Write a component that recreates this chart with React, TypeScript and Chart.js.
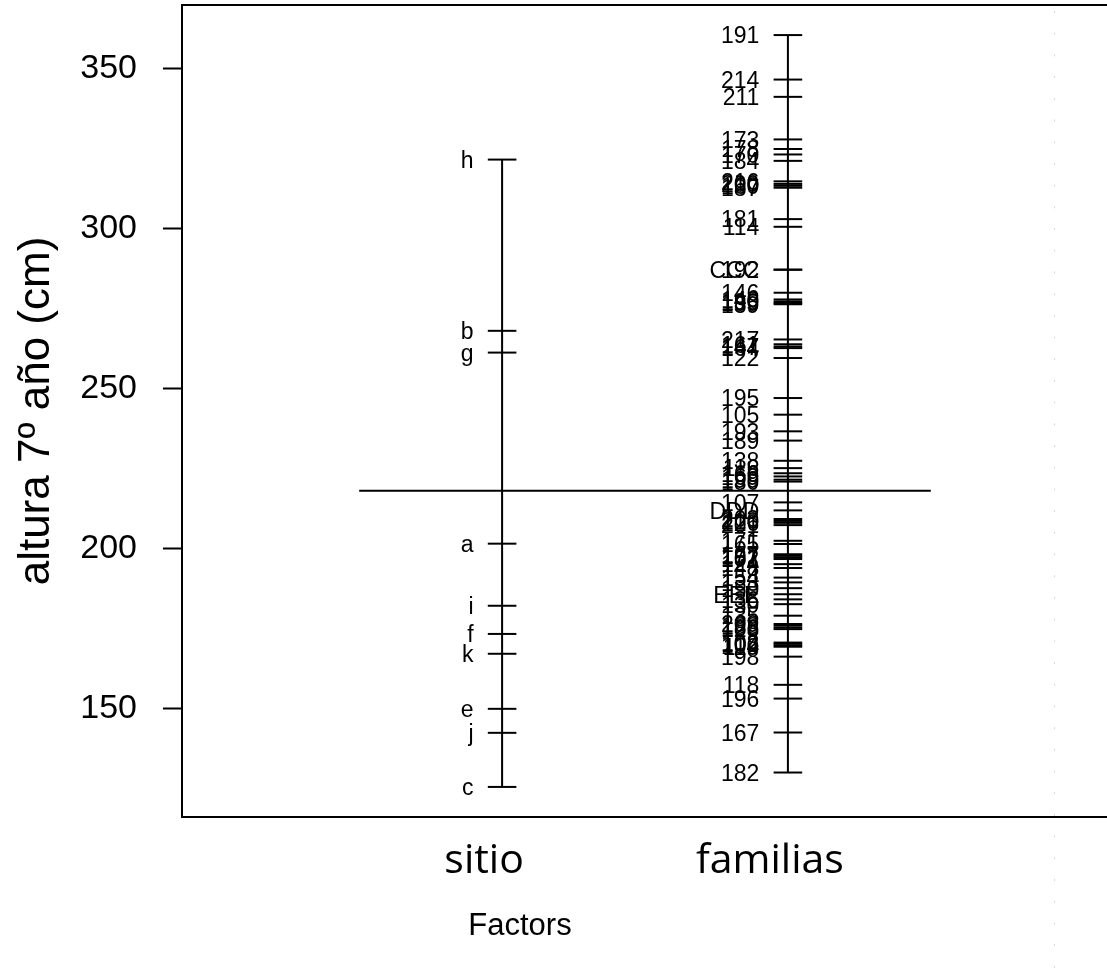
import React, { useEffect, useRef } from "react";
import { Chart, registerables } from "chart.js";

Chart.register(...registerables);

const factorNames = ["sitio", "familias"];
const yTicks = [150, 200, 250, 300, 350];
const grandMean = 218.1;

const sitioLevels = ["h", "b", "g", "a", "i", "f", "k", "e", "j", "c"];
const sitioMeans = [321.6, 268.1, 261.3, 201.6, 182.2, 173.4, 167.2, 150.0, 142.5, 125.6];

const familiaLevels = [
  "191", "214", "211", "173", "178", "170", "184", "216", "200", "160", "187",
  "181", "114", "CCC", "192", "146", "140", "190", "185", "139", "217", "161",
  "147", "164", "122", "195", "105", "193", "189", "138", "116", "166", "169",
  "199", "180", "107", "DDD", "203", "210", "126", "201", "171", "165", "177",
  "197", "152", "101", "124", "148", "154", "133", "150", "EEE", "136", "130",
  "135", "209", "188", "186", "128", "108", "102", "104", "119", "198", "118",
  "196", "167", "182",
];
const familiaMeans = [
  360.5, 346.6, 341.2, 327.9, 324.9, 323.2, 321.2, 314.8, 314.0, 313.4, 312.8,
  303.0, 300.6, 287.2, 287.2, 280.0, 277.9, 277.3, 276.8, 276.4, 265.4, 263.9,
  263.2, 262.7, 259.6, 247.1, 241.9, 236.7, 233.8, 227.5, 225.2, 223.6, 222.6,
  221.6, 221.0, 214.5, 212.0, 209.3, 208.7, 208.1, 207.4, 202.5, 201.5, 198.3,
  197.8, 197.3, 196.8, 195.2, 194.0, 191.0, 189.5, 187.7, 185.8, 184.2, 182.7,
  179.1, 176.5, 176.0, 175.4, 174.9, 170.7, 170.3, 169.8, 169.4, 166.3, 157.5,
  153.2, 142.6, 130.1,
];

const factorLevels = [sitioLevels, familiaLevels];
const factorMeans = [sitioMeans, familiaMeans];

export default function App() {
  const ref = useRef<HTMLCanvasElement>(null);

  useEffect(() => {
    if (!ref.current) return;
    const allVals = sitioMeans.concat(familiaMeans, [grandMean]);
    const lo = Math.min(...allVals);
    const hi = Math.max(...allVals);
    const ext = (hi - lo) * 0.04;
    const nf = factorNames.length;

    const datasets: any[] = [];
    factorMeans.forEach((vals, i) => {
      datasets.push({
        data: [
          { x: i + 1, y: Math.min(...vals) },
          { x: i + 1, y: Math.max(...vals) },
        ],
        showLine: true,
        borderColor: "#000",
        borderWidth: 2,
        pointRadius: 0,
      });
      datasets.push({
        data: vals.map((v) => ({ x: i + 1, y: v })),
        showLine: false,
        pointStyle: "line",
        pointRadius: 14.3,
        borderColor: "#000",
        borderWidth: 2,
      });
    });
    datasets.push({
      data: [
        { x: 0.5, y: grandMean },
        { x: nf + 0.5, y: grandMean },
      ],
      showLine: true,
      borderColor: "#000",
      borderWidth: 2,
      pointRadius: 0,
    });

    const decor = {
      id: "decor",
      afterDatasetsDraw(chart: any) {
        const { ctx, chartArea, scales } = chart;
        const xs = scales.x;
        const ys = scales.y;
        ctx.save();
        ctx.fillStyle = "#000";
        ctx.font = "23px 'Liberation Sans', Arial, sans-serif";
        ctx.textAlign = "right";
        ctx.textBaseline = "middle";
        factorLevels.forEach((labs, i) => {
          labs.forEach((lab, j) => {
            const px = xs.getPixelForValue(i + 1 - 0.1);
            const py = ys.getPixelForValue(factorMeans[i][j]) + 2;
            ctx.fillText(lab, px, py);
          });
        });
        ctx.strokeStyle = "#000";
        ctx.lineWidth = 2;
        ctx.strokeRect(
          chartArea.left,
          chartArea.top,
          chartArea.right - chartArea.left,
          chartArea.bottom - chartArea.top
        );
        ctx.textAlign = "center";
        ctx.font = "31px 'Liberation Sans', Arial, sans-serif";
        ctx.fillText("Factors", 520, 926);
        ctx.strokeStyle = "#d4d4e8";
        ctx.lineWidth = 1;
        ctx.setLineDash([2, 19.7]);
        ctx.beginPath();
        ctx.moveTo(1054.5, 11);
        ctx.lineTo(1054.5, 968);
        ctx.stroke();
        ctx.restore();
      },
    };

    const chart = new Chart(ref.current, {
      type: "scatter",
      data: { datasets },
      plugins: [decor],
      options: {
        animation: false,
        responsive: false,
        devicePixelRatio: 1,
        layout: { autoPadding: false, padding: { top: 5, right: 2, left: 0, bottom: 0 } },
        plugins: { legend: { display: false }, tooltip: { enabled: false } },
        scales: {
          x: {
            type: "linear",
            min: -0.12,
            max: nf + 1.12,
            afterFit: (s: any) => {
              s.height = 151;
              s.paddingLeft = 0;
              s.paddingRight = 0;
            },
            afterBuildTicks: (s: any) => {
              s.ticks = factorNames.map((_, i) => ({ value: i + 1 }));
            },
            grid: { display: false, drawTicks: false },
            border: { display: false },
            ticks: {
              callback: (v: any) => factorNames[Math.round(v) - 1] ?? "",
              color: "#000",
              font: { family: "'Open Sans', sans-serif", size: 41 },
              padding: 20,
              labelOffset: -18,
              maxRotation: 0,
              autoSkip: false,
            },
          },
          y: {
            type: "linear",
            min: lo - ext,
            max: hi + ext,
            afterFit: (s: any) => {
              s.width = 182;
              s.paddingTop = 0;
              s.paddingBottom = 0;
            },
            afterBuildTicks: (s: any) => {
              s.ticks = yTicks.map((v) => ({ value: v }));
            },
            grid: {
              display: true,
              drawOnChartArea: false,
              drawTicks: true,
              tickLength: 19,
              tickColor: "#000",
              tickWidth: 2,
            },
            border: { display: false },
            ticks: {
              color: "#000",
              font: { family: "'Liberation Sans', Arial, sans-serif", size: 34 },
              padding: 26,
              autoSkip: false,
            },
            title: {
              display: true,
              text: "altura 7º año (cm)",
              color: "#000",
              font: { family: "'Liberation Sans', Arial, sans-serif", size: 44 },
              padding: { top: 10, bottom: 0 },
            },
          },
        },
      },
    });
    return () => chart.destroy();
  }, []);

  return (
    <div
      style={{
        position: "fixed",
        left: 0,
        top: 0,
        width: 1107,
        height: 968,
        overflow: "hidden",
        background: "#fff",
      }}
    >
      <canvas
        ref={ref}
        width={1110}
        height={968}
        style={{ width: 1110, height: 968, display: "block" }}
      />
    </div>
  );
}
